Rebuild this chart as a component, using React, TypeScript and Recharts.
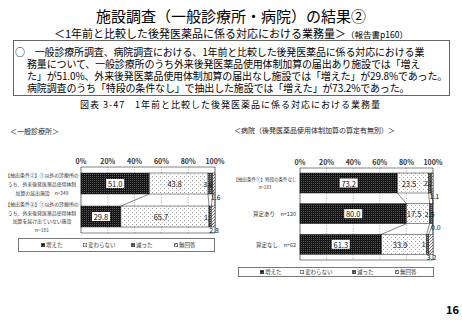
import React from 'react'
import { BarChart, Bar, XAxis, YAxis, CartesianGrid, ReferenceArea } from 'recharts'

const FONT = '"Noto Sans CJK JP", "Noto Sans", sans-serif'

// 一般診療所
const clinicLabels = [
  ['【抽出条件②】①以外の診療所の', 'うち、外来後発医薬品使用体制', '加算の届出施設　n=249'],
  ['【抽出条件③】①以外の診療所の', 'うち、外来後発医薬品使用体制', '加算を届け出ていない施設', 'n=181'],
]
const clinicUp = [51.0, 29.8]
const clinicSame = [43.8, 65.7]
const clinicDown = [3.6, 1.7]
const clinicNa = [1.6, 2.8]

// 病院
const hospLabels = [
  ['【抽出条件①】特段の条件なし', 'n=183'],
  ['算定あり　n=120'],
  ['算定なし　n=62'],
]
const hospUp = [73.2, 80.0, 61.3]
const hospSame = [23.5, 17.5, 33.9]
const hospDown = [2.2, 2.5, 1.6]
const hospNa = [1.1, 0.0, 3.2]

const seriesNames = ['増えた', '変わらない', '減った', '無回答']
const xTicks = [0, 20, 40, 60, 80, 100]

const KEYS = ['up', 'same', 'down', 'na'] as const
const FILLS = ['url(#pUp)', 'url(#pSame)', 'url(#pDown)', 'url(#pNa)']

type Row = { name: string; lines: string[]; up: number; same: number; down: number; na: number }

const buildRows = (labels: string[][], up: number[], same: number[], down: number[], na: number[]): Row[] =>
  labels.map((lines, i) => ({ name: 'r' + i, lines, up: up[i], same: same[i], down: down[i], na: na[i] }))

const clinicRows = buildRows(clinicLabels, clinicUp, clinicSame, clinicDown, clinicNa)
const hospRows = buildRows(hospLabels, hospUp, hospSame, hospDown, hospNa)

type Cfg = {
  left: number
  top: number
  width: number
  height: number
  yWidth: number
  barSize: number
  labelCenter: number
  labelSize: number
  singleSize: number
  lineGap: number
}

const MARGIN = { top: 0, right: 18, bottom: 4, left: 0 }
const XH = 15

function makeShape(k: number, rows: Row[], plotH: number) {
  const key = KEYS[k]
  return (p: any) => {
    const { x, y, height, index, background } = p
    const row: Row = rows[index]
    const v = row[key]
    const w = Math.max(p.width || 0, 0)
    const band = plotH / rows.length
    const next = rows[index + 1]
    const cx = x + w / 2
    const cy = y + height / 2
    const txt = v.toFixed(1)
    let link = null
    if (next && background && background.width) {
      const cum = KEYS.slice(0, k + 1).reduce((s, kk) => s + next[kk], 0)
      link = (
        <line x1={x + w} y1={y + height} x2={background.x + (cum / 100) * background.width} y2={y + band}
          stroke="#333" strokeWidth={0.6} />
      )
    }
    let label = null
    const common = { fontFamily: FONT, fill: '#111', dominantBaseline: 'central' as const }
    if (k === 0) {
      label = (
        <g>
          <rect x={cx - 9} y={cy - 4.5} width={18} height={9} fill="#fff" />
          <text x={cx} y={cy} textAnchor="middle" fontSize={7.5} {...common}>{txt}</text>
        </g>
      )
    } else if (k === 1) {
      label = <text x={cx - 4} y={cy} textAnchor="middle" fontSize={7.5} {...common}>{txt}</text>
    } else if (k === 2) {
      label = <text x={x} y={cy} textAnchor="middle" fontSize={7} {...common}>{txt}</text>
    } else {
      label = (
        <g>
          <line x1={cx} y1={y + height - 4} x2={x - 1} y2={y + height + 1} stroke="#333" strokeWidth={0.5} />
          <text x={x - 2} y={y + height + 3} textAnchor="start" fontSize={7} {...common}>{txt}</text>
        </g>
      )
    }
    return (
      <g>
        {w > 0 && <rect x={x} y={y} width={w} height={height} fill={FILLS[k]} stroke="#222" strokeWidth={0.5} />}
        {link}
        {label}
      </g>
    )
  }
}

function CatTick({ x, y, payload, rows, cfg }: any) {
  const row: Row | undefined = rows.find((r: Row) => r.name === payload.value)
  if (!row) return null
  const lines = row.lines
  const single = lines.length === 1
  const y0 = y - ((lines.length - 1) * cfg.lineGap) / 2
  return (
    <g>
      {lines.map((l: string, i: number) => (
        <text key={i} x={single ? x : cfg.labelCenter} y={y0 + i * cfg.lineGap}
          textAnchor={single ? 'end' : 'middle'} dominantBaseline="central"
          fontSize={single ? cfg.singleSize : cfg.labelSize} fill="#333" fontFamily={FONT}>
          {l}
        </text>
      ))}
    </g>
  )
}

function StackChart({ rows, cfg }: { rows: Row[]; cfg: Cfg }) {
  const plotH = cfg.height - MARGIN.top - MARGIN.bottom - XH
  return (
    <div style={{ position: 'absolute', left: cfg.left, top: cfg.top }}>
      <BarChart width={cfg.width} height={cfg.height} data={rows} layout="vertical" margin={MARGIN} barSize={cfg.barSize}>
        <CartesianGrid horizontal={false} stroke="#8a8a8a" strokeDasharray="1 1.5" strokeWidth={0.7} />
        <XAxis type="number" orientation="top" domain={[0, 100]} ticks={xTicks} interval={0}
          tickFormatter={(v: number) => `${v}%`} height={XH} axisLine={false} tickLine={false}
          tickSize={2} tickMargin={1}
          tick={{ fontSize: 7, fill: '#333', fontWeight: 700, fontFamily: FONT }} />
        <YAxis type="category" dataKey="name" width={cfg.yWidth} axisLine={false} tickLine={false}
          tickSize={2} tickMargin={2} interval={0}
          tick={(p: any) => <CatTick {...p} rows={rows} cfg={cfg} />} />
        {KEYS.map((k, i) => (
          <Bar key={k} dataKey={k} name={seriesNames[i]} stackId="s" isAnimationActive={false}
            shape={makeShape(i, rows, plotH)} />
        ))}
        <ReferenceArea x1={0} x2={100} fill="none" stroke="#666" strokeWidth={0.8} ifOverflow="visible" />
      </BarChart>
    </div>
  )
}

function LegendBox({ left, top, width, height, itemX }: { left: number; top: number; width: number; height: number; itemX: number[] }) {
  return (
    <div style={{ position: 'absolute', left, top, width, height, border: '1px solid #777', boxSizing: 'border-box' }}>
      {seriesNames.map((n, i) => (
        <div key={n} style={{
          position: 'absolute', left: itemX[i] - left, top: 0, height: height - 2,
          display: 'flex', alignItems: 'center', fontSize: 5.5, color: '#333', whiteSpace: 'nowrap',
        }}>
          <svg width={4} height={4} style={{ marginRight: 1 }}>
            <rect x={0.25} y={0.25} width={3.5} height={3.5} fill={FILLS[i]} stroke="#333" strokeWidth={0.5} />
          </svg>
          {n}
        </div>
      ))}
    </div>
  )
}

const clinicCfg: Cfg = { left: 0, top: 152, width: 233, height: 85, yWidth: 81, barSize: 21, labelCenter: 42, labelSize: 4.9, singleSize: 5, lineGap: 8.8 }
const hospCfg: Cfg = { left: 231, top: 153, width: 220, height: 111, yWidth: 69, barSize: 20, labelCenter: 34, labelSize: 4.5, singleSize: 5.5, lineGap: 8 }

const boxLines = [
  '務量について、一般診療所のうち外来後発医薬品使用体制加算の届出あり施設では「増え',
  'た」が51.0%、外来後発医薬品使用体制加算の届出なし施設では「増えた」が29.8%であった。',
  '病院調査のうち「特段の条件なし」で抽出した施設では「増えた」が73.2%であった。',
]

export default function App() {
  const abs = (left: number, top: number, extra: React.CSSProperties = {}): React.CSSProperties => ({
    position: 'absolute', left, top, whiteSpace: 'nowrap', ...extra,
  })
  const boxText: React.CSSProperties = { fontSize: 10, lineHeight: '12px', letterSpacing: -0.15 }
  return (
    <div style={{ position: 'absolute', left: 0, top: 0, width: 462, height: 320, background: '#fff', overflow: 'hidden', fontFamily: FONT, color: '#000' }}>
      <svg width={0} height={0} style={{ position: 'absolute' }}>
        <defs>
          <pattern id="pUp" width={2} height={2} patternUnits="userSpaceOnUse">
            <rect width={2} height={2} fill="#141414" />
            <rect width={1} height={1} fill="#5a5a5a" />
          </pattern>
          <pattern id="pSame" width={4} height={4} patternUnits="userSpaceOnUse">
            <rect width={4} height={4} fill="#fff" />
            <rect width={1} height={1} fill="#999" />
            <rect x={2} y={2} width={1} height={1} fill="#bbb" />
          </pattern>
          <pattern id="pDown" width={2} height={2} patternUnits="userSpaceOnUse">
            <rect width={2} height={2} fill="#444" />
            <rect width={1} height={1} fill="#999" />
          </pattern>
          <pattern id="pNa" width={3} height={3} patternUnits="userSpaceOnUse">
            <rect width={3} height={3} fill="#fff" />
            <path d="M0,3 L3,0" stroke="#555" strokeWidth={0.8} />
          </pattern>
        </defs>
      </svg>

      <div style={abs(0, 6, { width: 462, textAlign: 'center', fontSize: 15, lineHeight: '20px' })}>
        施設調査（一般診療所・病院）の結果②
      </div>
      <div style={abs(0, 27, { width: 462, textAlign: 'center', fontSize: 11, lineHeight: '13px' })}>
        ＜1年前と比較した後発医薬品に係る対応における業務量＞<span style={{ fontSize: 8.5 }}>（報告書p160）</span>
      </div>

      <div style={{ position: 'absolute', left: 13, top: 40, width: 437, height: 56, border: '1px solid #666', boxSizing: 'border-box' }} />
      <div style={abs(15, 46, boxText)}>
        ○　一般診療所調査、病院調査における、1年前と比較した後発医薬品に係る対応における業
      </div>
      {boxLines.map((l, i) => (
        <div key={i} style={abs(27, 57.5 + i * 12, boxText)}>{l}</div>
      ))}

      <div style={abs(80, 99, { fontSize: 9, lineHeight: '12px', letterSpacing: 1 })}>
        図表 3-47　1年前と比較した後発医薬品に係る対応における業務量
      </div>

      <div style={abs(10, 127, { fontSize: 7, lineHeight: '9px', color: '#222' })}>＜一般診療所＞</div>
      <div style={abs(234, 126, { fontSize: 7, lineHeight: '9px', color: '#222' })}>＜病院（後発医薬品使用体制加算の算定有無別）＞</div>

      <StackChart rows={clinicRows} cfg={clinicCfg} />
      <StackChart rows={hospRows} cfg={hospCfg} />

      <LegendBox left={18} top={238} width={197} height={14} itemX={[40, 82, 130, 173]} />
      <LegendBox left={238} top={267} width={196} height={10} itemX={[259, 299, 351, 394]} />

      <div style={abs(446, 303, { fontSize: 11, lineHeight: '13px', fontWeight: 700 })}>16</div>
    </div>
  )
}
